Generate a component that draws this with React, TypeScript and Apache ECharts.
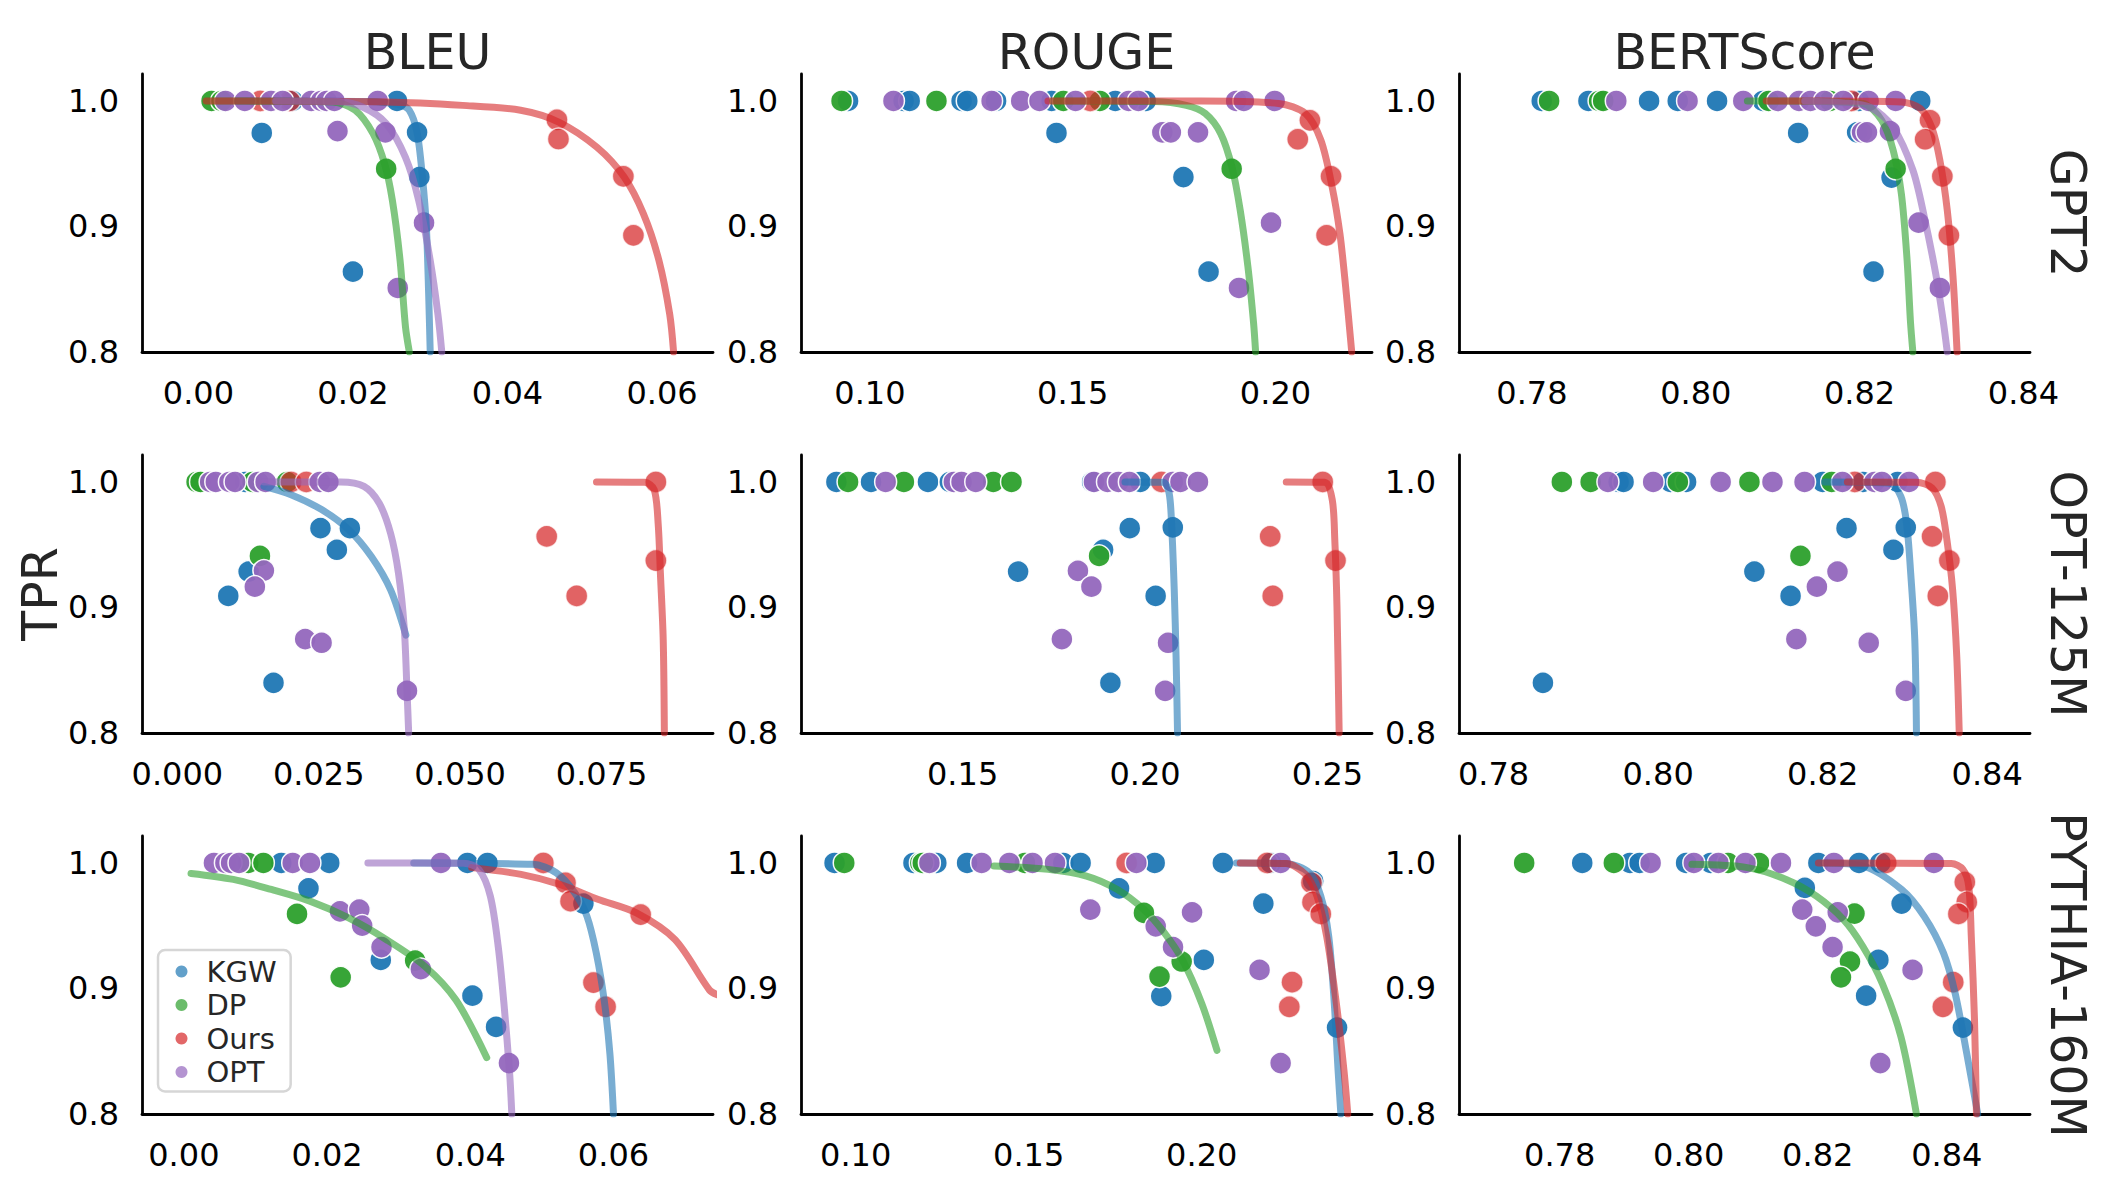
import React, { useEffect, useRef } from "react";
import * as echarts from "echarts";

// ---------- labels ----------
const metricNames = ["BLEU", "ROUGE", "BERTScore"];
const modelNames = ["GPT2", "OPT-125M", "PYTHIA-160M"];
const methodNames = ["KGW", "DP", "Ours", "OPT"];
const yTicks = [0.8, 0.9, 1.0];
const bleuTicks = [0.0, 0.02, 0.04, 0.06];
const bleuOptTicks = [0.0, 0.025, 0.05, 0.075];
const rougeTicks = [0.1, 0.15, 0.2];
const rougeOptTicks = [0.15, 0.2, 0.25];
const bertTicks = [0.78, 0.8, 0.82, 0.84];

// ---------- GPT2 / BLEU ----------
const gpt2BleuKgw = [[0.0122, 1.0], [0.0257, 1.0], [0.0082, 0.9745], [0.0283, 0.975], [0.0286, 0.9394], [0.02, 0.864]];
const gpt2BleuDp = [[0.0017, 1.0], [0.003, 1.0], [0.0243, 0.946]];
const gpt2BleuOurs = [[0.008, 1.0], [0.0118, 1.0], [0.0464, 0.985], [0.0466, 0.9697], [0.055, 0.94], [0.0563, 0.893]];
const gpt2BleuOpt = [[0.0035, 1.0], [0.006, 1.0], [0.0094, 1.0], [0.0109, 1.0], [0.0146, 1.0], [0.0159, 1.0], [0.0166, 1.0], [0.0176, 1.0], [0.0232, 1.0], [0.018, 0.976], [0.0242, 0.975], [0.0292, 0.903], [0.0258, 0.851]];
const gpt2BleuKgwFit = [[0.005, 1.0], [0.022, 0.9995], [0.026, 0.997], [0.0273, 0.9926], [0.0283, 0.975], [0.029, 0.939], [0.0295, 0.9], [0.0298, 0.846], [0.03, 0.8]];
const gpt2BleuDpFit = [[0.001, 1.0], [0.01, 0.9998], [0.0174, 0.9992], [0.0203, 0.9926], [0.0226, 0.974], [0.0241, 0.95], [0.0251, 0.921], [0.0261, 0.873], [0.0268, 0.82], [0.0273, 0.8]];
const gpt2BleuOursFit = [[0.001, 1.0], [0.0243, 0.9992], [0.0342, 0.9965], [0.0417, 0.9926], [0.0467, 0.983], [0.0516, 0.963], [0.0551, 0.9394], [0.0576, 0.91], [0.0596, 0.873], [0.061, 0.83], [0.0615, 0.8]];
const gpt2BleuOptFit = [[0.01, 1.0], [0.018, 0.9995], [0.0213, 0.995], [0.0243, 0.982], [0.0268, 0.955], [0.0285, 0.921], [0.03, 0.873], [0.031, 0.83], [0.0315, 0.8]];

// ---------- GPT2 / ROUGE ----------
const gpt2RougeKgw = [[0.0946, 1.0], [0.1083, 1.0], [0.1098, 1.0], [0.1226, 1.0], [0.124, 1.0], [0.1311, 1.0], [0.1448, 1.0], [0.1605, 1.0], [0.168, 1.0], [0.146, 0.9745], [0.1773, 0.9394], [0.1835, 0.864]];
const gpt2RougeDp = [[0.093, 1.0], [0.1164, 1.0], [0.1477, 1.0], [0.1567, 1.0], [0.1892, 0.946]];
const gpt2RougeOurs = [[0.1543, 1.0], [0.2085, 0.9846], [0.2055, 0.9695], [0.2137, 0.94], [0.2126, 0.893]];
const gpt2RougeOpt = [[0.1058, 1.0], [0.13, 1.0], [0.1373, 1.0], [0.1418, 1.0], [0.1507, 1.0], [0.1638, 1.0], [0.1662, 1.0], [0.1903, 1.0], [0.1922, 1.0], [0.1998, 1.0], [0.1721, 0.975], [0.1742, 0.975], [0.1809, 0.975], [0.1989, 0.903], [0.191, 0.851]];
const gpt2RougeDpFit = [[0.145, 1.0], [0.17, 0.9995], [0.178, 0.9965], [0.1827, 0.99], [0.1865, 0.974], [0.1893, 0.947], [0.1913, 0.913], [0.1932, 0.868], [0.1946, 0.823], [0.1951, 0.8]];
const gpt2RougeOursFit = [[0.1439, 1.0], [0.1818, 1.0], [0.2008, 0.998], [0.2074, 0.99], [0.2112, 0.9687], [0.214, 0.931], [0.2159, 0.894], [0.2173, 0.852], [0.2188, 0.8]];

// ---------- GPT2 / BERTScore ----------
const gpt2BertKgw = [[0.7812, 1.0], [0.7869, 1.0], [0.7943, 1.0], [0.7978, 1.0], [0.8026, 1.0], [0.8082, 1.0], [0.8199, 1.0], [0.8274, 1.0], [0.8125, 0.9745], [0.8197, 0.975], [0.8239, 0.939], [0.8217, 0.864]];
const gpt2BertDp = [[0.7821, 1.0], [0.7882, 1.0], [0.7887, 1.0], [0.8089, 1.0], [0.8164, 1.0], [0.8244, 0.946]];
const gpt2BertOurs = [[0.819, 1.0], [0.8286, 0.9846], [0.828, 0.9695], [0.8301, 0.94], [0.8309, 0.893]];
const gpt2BertOpt = [[0.7903, 1.0], [0.799, 1.0], [0.8058, 1.0], [0.81, 1.0], [0.8126, 1.0], [0.814, 1.0], [0.8157, 1.0], [0.818, 1.0], [0.8211, 1.0], [0.8244, 1.0], [0.8203, 0.975], [0.8209, 0.975], [0.8237, 0.976], [0.8272, 0.903], [0.8298, 0.851]];
const gpt2BertDpFit = [[0.8063, 1.0], [0.815, 0.9997], [0.8204, 0.998], [0.8227, 0.9846], [0.8241, 0.9607], [0.8251, 0.926], [0.8258, 0.873], [0.8262, 0.825], [0.8265, 0.8]];
const gpt2BertOursFit = [[0.8086, 1.0], [0.82, 0.9998], [0.8251, 0.9992], [0.8274, 0.994], [0.8288, 0.979], [0.8298, 0.9527], [0.8307, 0.913], [0.8314, 0.86], [0.8319, 0.8]];
const gpt2BertOptFit = [[0.8133, 1.0], [0.818, 0.9985], [0.8213, 0.995], [0.8241, 0.979], [0.8265, 0.945], [0.8279, 0.9076], [0.8293, 0.862], [0.8302, 0.825], [0.8307, 0.8]];

// ---------- OPT-125M / BLEU ----------
const optBleuKgw = [[0.012, 1.0], [0.0253, 0.9632], [0.0305, 0.9632], [0.0282, 0.946], [0.0126, 0.9286], [0.009, 0.9092], [0.017, 0.84]];
const optBleuDp = [[0.0034, 1.0], [0.0041, 1.0], [0.0133, 1.0], [0.0194, 1.0], [0.0146, 0.9411]];
const optBleuOurs = [[0.0201, 1.0], [0.0228, 1.0], [0.0846, 1.0], [0.0653, 0.9566], [0.0846, 0.9374], [0.0706, 0.9092]];
const optBleuOpt = [[0.0058, 1.0], [0.0068, 1.0], [0.0092, 1.0], [0.0102, 1.0], [0.0143, 1.0], [0.0156, 1.0], [0.0252, 1.0], [0.0267, 1.0], [0.0153, 0.9294], [0.0137, 0.9166], [0.0226, 0.8748], [0.0255, 0.8719], [0.0406, 0.8336]];
const optBleuKgwFit = [[0.0153, 0.9965], [0.0201, 0.9899], [0.0255, 0.978], [0.0303, 0.962], [0.0343, 0.9406], [0.0377, 0.914], [0.0404, 0.878]];
const optBleuOursFit = [[0.0741, 1.0], [0.0826, 0.9997], [0.0843, 0.9939], [0.085, 0.9672], [0.0854, 0.9273], [0.0859, 0.874], [0.0861, 0.8]];
const optBleuOptFit = [[0.0153, 1.0], [0.0289, 1.0], [0.033, 0.9965], [0.0357, 0.983], [0.0377, 0.959], [0.0391, 0.927], [0.0401, 0.8847], [0.0406, 0.834], [0.0409, 0.8]];

// ---------- OPT-125M / ROUGE ----------
const optRougeKgw = [[0.1154, 1.0], [0.1249, 1.0], [0.1405, 1.0], [0.1465, 1.0], [0.1855, 1.0], [0.1987, 1.0], [0.1958, 0.9632], [0.2076, 0.9638], [0.1885, 0.946], [0.1652, 0.9286], [0.2029, 0.9092], [0.1905, 0.84]];
const optRougeDp = [[0.1186, 1.0], [0.1339, 1.0], [0.1584, 1.0], [0.1634, 1.0], [0.1874, 0.9411]];
const optRougeOurs = [[0.2045, 1.0], [0.2487, 1.0], [0.2343, 0.9566], [0.2522, 0.9374], [0.235, 0.9092]];
const optRougeOpt = [[0.1289, 1.0], [0.1476, 1.0], [0.1497, 1.0], [0.1536, 1.0], [0.186, 1.0], [0.1897, 1.0], [0.1927, 1.0], [0.1957, 1.0], [0.2076, 1.0], [0.2097, 1.0], [0.2145, 1.0], [0.1816, 0.9292], [0.1853, 0.9166], [0.1772, 0.8748], [0.2063, 0.8719], [0.2055, 0.8336]];
const optRougeKgwFit = [[0.1945, 1.0], [0.205, 0.9997], [0.2066, 0.991], [0.2073, 0.9646], [0.208, 0.914], [0.2085, 0.8607], [0.2089, 0.8]];
const optRougeOursFit = [[0.2387, 1.0], [0.2492, 0.9997], [0.2513, 0.9859], [0.252, 0.954], [0.2526, 0.9007], [0.2532, 0.8]];

// ---------- OPT-125M / BERTScore ----------
const optBertKgw = [[0.7952, 1.0], [0.7958, 1.0], [0.8015, 1.0], [0.8034, 1.0], [0.82, 1.0], [0.8249, 1.0], [0.8291, 1.0], [0.8229, 0.9632], [0.8301, 0.9638], [0.8286, 0.946], [0.8117, 0.9286], [0.8161, 0.9092], [0.786, 0.84]];
const optBertDp = [[0.7883, 1.0], [0.7918, 1.0], [0.8024, 1.0], [0.8111, 1.0], [0.8211, 1.0], [0.8173, 0.9411]];
const optBertOurs = [[0.8239, 1.0], [0.8337, 1.0], [0.8333, 0.9566], [0.8354, 0.9374], [0.834, 0.9092]];
const optBertOpt = [[0.7939, 1.0], [0.7994, 1.0], [0.8076, 1.0], [0.8139, 1.0], [0.8178, 1.0], [0.8224, 1.0], [0.8263, 1.0], [0.8272, 1.0], [0.8305, 1.0], [0.8218, 0.9286], [0.8193, 0.9166], [0.8168, 0.8748], [0.8256, 0.8719], [0.8301, 0.8336]];
const optBertKgwFit = [[0.8202, 1.0], [0.8281, 0.9992], [0.8295, 0.9885], [0.8302, 0.9672], [0.8307, 0.9273], [0.8312, 0.874], [0.8314, 0.8]];
const optBertOursFit = [[0.823, 1.0], [0.8314, 0.9997], [0.8333, 0.9952], [0.8344, 0.9806], [0.8351, 0.9539], [0.8358, 0.914], [0.8363, 0.8607], [0.8366, 0.8]];

// ---------- PYTHIA-160M / BLEU ----------
const pyBleuKgw = [[0.0136, 1.0], [0.0203, 1.0], [0.0396, 1.0], [0.0424, 1.0], [0.0174, 0.9797], [0.0275, 0.9228], [0.0403, 0.8943], [0.0436, 0.8694], [0.0558, 0.9677]];
const pyBleuDp = [[0.009, 1.0], [0.0111, 1.0], [0.0158, 0.9594], [0.0323, 0.9223], [0.0219, 0.9089]];
const pyBleuOurs = [[0.0502, 1.0], [0.0533, 0.9842], [0.054, 0.9696], [0.0638, 0.9589], [0.0572, 0.9047], [0.0589, 0.8854]];
const pyBleuOpt = [[0.0042, 1.0], [0.0058, 1.0], [0.0066, 1.0], [0.0077, 1.0], [0.0152, 1.0], [0.0176, 1.0], [0.0359, 1.0], [0.0218, 0.9615], [0.0245, 0.9629], [0.0249, 0.9501], [0.0276, 0.933], [0.0331, 0.9154], [0.0454, 0.8406]];
const pyBleuKgwFit = [[0.0321, 1.0], [0.0487, 0.9989], [0.052, 0.9922], [0.0546, 0.9762], [0.0563, 0.9575], [0.0576, 0.9282], [0.0587, 0.8908], [0.0595, 0.8481], [0.06, 0.8]];
const pyBleuDpFit = [[0.001, 0.9917], [0.0069, 0.9869], [0.0122, 0.9789], [0.0176, 0.9696], [0.023, 0.9562], [0.0283, 0.9389], [0.0337, 0.9175], [0.038, 0.8908], [0.0423, 0.8449]];
const pyBleuOursFit = [[0.0402, 0.9963], [0.0471, 0.9909], [0.0525, 0.9829], [0.0579, 0.9709], [0.0632, 0.9602], [0.0686, 0.9389], [0.0734, 0.8988], [0.0745, 0.895]];
const pyBleuOptFit = [[0.0257, 1.0], [0.0391, 0.9997], [0.0412, 0.9949], [0.0428, 0.9736], [0.0439, 0.9335], [0.0447, 0.8881], [0.0455, 0.832], [0.0458, 0.8]];

// ---------- PYTHIA-160M / ROUGE ----------
const pyRougeKgw = [[0.0939, 1.0], [0.1167, 1.0], [0.1233, 1.0], [0.1322, 1.0], [0.16, 1.0], [0.165, 1.0], [0.1864, 1.0], [0.2061, 1.0], [0.22, 1.0], [0.1761, 0.9797], [0.2006, 0.9228], [0.1883, 0.894], [0.2178, 0.9677], [0.2391, 0.8689], [0.2322, 0.9856]];
const pyRougeDp = [[0.0967, 1.0], [0.1187, 1.0], [0.1194, 1.0], [0.1489, 1.0], [0.1833, 0.9602], [0.1942, 0.9215], [0.1878, 0.9095]];
const pyRougeOurs = [[0.1783, 1.0], [0.2189, 1.0], [0.2317, 0.9842], [0.232, 0.9688], [0.2344, 0.9594], [0.2261, 0.905], [0.2253, 0.8854]];
const pyRougeOpt = [[0.1213, 1.0], [0.1364, 1.0], [0.1444, 1.0], [0.1511, 1.0], [0.1576, 1.0], [0.1811, 1.0], [0.2228, 1.0], [0.1678, 0.9629], [0.1972, 0.9607], [0.1867, 0.9495], [0.1917, 0.933], [0.2167, 0.9148], [0.2228, 0.8406]];
const pyRougeKgwFit = [[0.21, 1.0], [0.2244, 0.9995], [0.2311, 0.9922], [0.2344, 0.9736], [0.2367, 0.9415], [0.2383, 0.8881], [0.2394, 0.8347], [0.2402, 0.8]];
const pyRougeDpFit = [[0.14, 0.9976], [0.1556, 0.9949], [0.1667, 0.9896], [0.1756, 0.9789], [0.1833, 0.9629], [0.1889, 0.9455], [0.1944, 0.9228], [0.2, 0.8881], [0.2044, 0.8507]];
const pyRougeOursFit = [[0.2111, 1.0], [0.2244, 0.9995], [0.23, 0.9909], [0.2333, 0.9736], [0.2361, 0.9415], [0.2389, 0.8881], [0.2411, 0.8347], [0.2422, 0.8]];

// ---------- PYTHIA-160M / BERTScore ----------
const pyBertKgw = [[0.7835, 1.0], [0.7909, 1.0], [0.7924, 1.0], [0.7996, 1.0], [0.8034, 1.0], [0.8201, 1.0], [0.8264, 1.0], [0.8297, 1.0], [0.818, 0.9802], [0.833, 0.9677], [0.8294, 0.9228], [0.8275, 0.8943], [0.8425, 0.8689]];
const pyBertDp = [[0.7745, 1.0], [0.7884, 1.0], [0.8061, 1.0], [0.8109, 1.0], [0.8257, 0.9597], [0.825, 0.9215], [0.8236, 0.9089]];
const pyBertOurs = [[0.8306, 1.0], [0.8428, 0.9848], [0.8431, 0.9688], [0.8418, 0.9594], [0.841, 0.905], [0.8394, 0.8854]];
const pyBertOpt = [[0.7941, 1.0], [0.8008, 1.0], [0.8046, 1.0], [0.8088, 1.0], [0.8143, 1.0], [0.8225, 1.0], [0.838, 1.0], [0.8176, 0.9629], [0.8231, 0.9607], [0.8197, 0.9495], [0.8223, 0.933], [0.8347, 0.9148], [0.8297, 0.8406]];
const pyBertKgwFit = [[0.821, 1.0], [0.827, 0.9976], [0.833, 0.9789], [0.8365, 0.9575], [0.8395, 0.9282], [0.8413, 0.8961], [0.8431, 0.8481], [0.8448, 0.8]];
const pyBertDpFit = [[0.8005, 0.9989], [0.8091, 0.9963], [0.8151, 0.9869], [0.8198, 0.9736], [0.824, 0.9549], [0.827, 0.9335], [0.83, 0.9041], [0.8329, 0.8614], [0.8353, 0.8]];
const pyBertOursFit = [[0.8201, 1.0], [0.8407, 0.9995], [0.8425, 0.9949], [0.8434, 0.9816], [0.8438, 0.9415], [0.8443, 0.8748], [0.8446, 0.8]];

// ---------- styling / layout ----------
const COLORS: Record<string, string> = { KGW: "#1f77b4", DP: "#2ca02c", Ours: "#d62728", OPT: "#9467bd" };
const FONT = "DejaVu Sans";
const GRID_LEFT = [142, 801, 1459];
const GRID_TOP = [74, 455, 836];
const GRID_W = 571;
const GRID_H = 278;
const Y_MAX = 1.0215;

type Panel = {
  xRange: [number, number];
  ticks: number[];
  dec: number;
  dots: any[][][];
  fits: (any[][] | null)[];
};

const panels: Panel[] = [
  { xRange: [-0.0073, 0.0666], ticks: bleuTicks, dec: 2, dots: [gpt2BleuKgw, gpt2BleuDp, gpt2BleuOurs, gpt2BleuOpt], fits: [gpt2BleuKgwFit, gpt2BleuDpFit, gpt2BleuOursFit, gpt2BleuOptFit] },
  { xRange: [0.083, 0.2238], ticks: rougeTicks, dec: 2, dots: [gpt2RougeKgw, gpt2RougeDp, gpt2RougeOurs, gpt2RougeOpt], fits: [null, gpt2RougeDpFit, gpt2RougeOursFit, null] },
  { xRange: [0.7711, 0.8408], ticks: bertTicks, dec: 2, dots: [gpt2BertKgw, gpt2BertDp, gpt2BertOurs, gpt2BertOpt], fits: [null, gpt2BertDpFit, gpt2BertOursFit, gpt2BertOptFit] },
  { xRange: [-0.00625, 0.0947], ticks: bleuOptTicks, dec: 3, dots: [optBleuKgw, optBleuDp, optBleuOurs, optBleuOpt], fits: [optBleuKgwFit, null, optBleuOursFit, optBleuOptFit] },
  { xRange: [0.1057, 0.2622], ticks: rougeOptTicks, dec: 2, dots: [optRougeKgw, optRougeDp, optRougeOurs, optRougeOpt], fits: [optRougeKgwFit, null, optRougeOursFit, null] },
  { xRange: [0.7758, 0.8452], ticks: bertTicks, dec: 2, dots: [optBertKgw, optBertDp, optBertOurs, optBertOpt], fits: [optBertKgwFit, null, optBertOursFit, null] },
  { xRange: [-0.00585, 0.0739], ticks: bleuTicks, dec: 2, dots: [pyBleuKgw, pyBleuDp, pyBleuOurs, pyBleuOpt], fits: [pyBleuKgwFit, pyBleuDpFit, pyBleuOursFit, pyBleuOptFit] },
  { xRange: [0.0842, 0.2492], ticks: rougeTicks, dec: 2, dots: [pyRougeKgw, pyRougeDp, pyRougeOurs, pyRougeOpt], fits: [pyRougeKgwFit, pyRougeDpFit, pyRougeOursFit, null] },
  { xRange: [0.7644, 0.8529], ticks: bertTicks, dec: 2, dots: [pyBertKgw, pyBertDp, pyBertOurs, pyBertOpt], fits: [pyBertKgwFit, pyBertDpFit, pyBertOursFit, null] },
];

function buildOption() {
  const grid: any[] = [];
  const xAxis: any[] = [];
  const yAxis: any[] = [];
  const scatterSeries: any[] = [];
  const lineSeries: any[] = [];

  panels.forEach((p, i) => {
    const r = Math.floor(i / 3);
    const c = i % 3;
    grid.push({ left: GRID_LEFT[c], top: GRID_TOP[r], width: GRID_W, height: GRID_H, containLabel: false });
    xAxis.push({
      type: "value",
      gridIndex: i,
      min: p.xRange[0],
      max: p.xRange[1],
      axisLine: { show: true, onZero: false, lineStyle: { color: "#000", width: 2.8 } },
      axisTick: { show: false },
      splitLine: { show: false },
      axisLabel: {
        customValues: p.ticks,
        formatter: (v: number) => v.toFixed(p.dec),
        fontSize: 32,
        fontFamily: FONT,
        color: "#000",
        margin: 25,
      },
    });
    yAxis.push({
      type: "value",
      gridIndex: i,
      min: 0.8,
      max: Y_MAX,
      axisLine: { show: true, onZero: false, lineStyle: { color: "#000", width: 2.8 } },
      axisTick: { show: false },
      splitLine: { show: false },
      axisLabel: {
        customValues: yTicks,
        formatter: (v: number) => v.toFixed(1),
        fontSize: 32,
        fontFamily: FONT,
        color: "#000",
        margin: 23,
      },
    });
    methodNames.forEach((m, k) => {
      scatterSeries.push({
        type: "scatter",
        name: m,
        xAxisIndex: i,
        yAxisIndex: i,
        data: p.dots[k],
        symbolSize: 22,
        itemStyle: { color: COLORS[m], opacity: m === "Ours" ? 0.72 : 0.95, borderColor: "#ffffff", borderWidth: 1.5 },
        z: 2,
        silent: true,
      });
      const fit = p.fits[k];
      if (fit) {
        lineSeries.push({
          type: "line",
          name: m + " fit",
          xAxisIndex: i,
          yAxisIndex: i,
          data: fit,
          symbol: "none",
          showSymbol: false,
          smooth: 0.3,
          clip: true,
          lineStyle: { color: COLORS[m], width: 7, opacity: 0.6, cap: "round", join: "round" },
          z: 3,
          silent: true,
        });
      }
    });
  });

  const graphic: any[] = [];
  metricNames.forEach((t, c) => {
    graphic.push({
      type: "text",
      x: GRID_LEFT[c] + GRID_W / 2,
      y: 52,
      style: { text: t, fontSize: 49, fontFamily: FONT, fill: "#262626", align: "center", verticalAlign: "middle" },
    });
  });
  modelNames.forEach((t, r) => {
    graphic.push({
      type: "text",
      x: 2067,
      y: GRID_TOP[r] + GRID_H / 2,
      rotation: -Math.PI / 2,
      style: { text: t, fontSize: 49, fontFamily: FONT, fill: "#262626", align: "center", verticalAlign: "middle" },
    });
  });
  graphic.push({
    type: "text",
    x: 40,
    y: GRID_TOP[1] + GRID_H / 2,
    rotation: Math.PI / 2,
    style: { text: "TPR", fontSize: 49, fontFamily: FONT, fill: "#262626", align: "center", verticalAlign: "middle" },
  });

  return {
    animation: false,
    backgroundColor: "#ffffff",
    grid,
    xAxis,
    yAxis,
    legend: {
      data: methodNames.map((m) => ({ name: m, itemStyle: { color: COLORS[m], opacity: 0.7, borderWidth: 0 } })),
      orient: "vertical",
      left: 158,
      top: 950,
      icon: "circle",
      itemWidth: 40,
      itemHeight: 12,
      itemGap: 4.5,
      padding: [7, 14, 5, 17.5],
      borderColor: "#d6d6d6",
      borderWidth: 2.5,
      borderRadius: 7,
      backgroundColor: "#ffffff",
      selectedMode: false,
      textStyle: { fontSize: 29, fontFamily: FONT, color: "#262626" },
      z: 10,
    },
    graphic,
    series: [...scatterSeries, ...lineSeries],
  };
}

export default function App() {
  const ref = useRef<HTMLDivElement>(null);
  useEffect(() => {
    document.body.style.margin = "0";
    document.body.style.overflow = "hidden";
    const chart = echarts.init(ref.current as HTMLDivElement, null, { renderer: "svg" });
    chart.setOption(buildOption() as any);
    return () => chart.dispose();
  }, []);
  return <div ref={ref} style={{ width: 2118, height: 1204, background: "#fff" }} />;
}
